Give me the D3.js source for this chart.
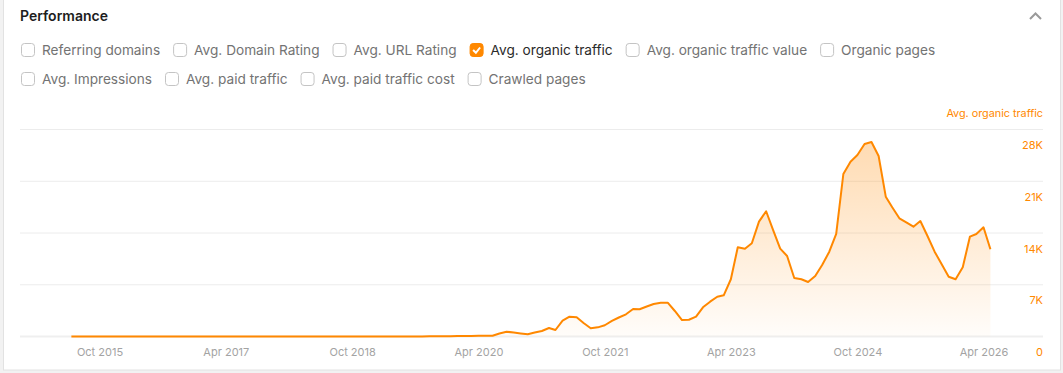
<!DOCTYPE html>
<html>
<head>
<meta charset="utf-8">
<script src="https://cdn.jsdelivr.net/npm/d3@7"></script>
<style>
  body { margin: 0; background: #f2f2f2; font-family: Inter, "Noto Sans", sans-serif; }
  svg { display: block; }
</style>
</head>
<body>
<svg id="chart" width="1063" height="373"></svg>
<script>
// metric toggles shown above the chart
const metricsRow1 = ["Referring domains", "Avg. Domain Rating", "Avg. URL Rating", "Avg. organic traffic", "Avg. organic traffic value", "Organic pages"];
const metricsRow2 = ["Avg. Impressions", "Avg. paid traffic", "Avg. paid traffic cost", "Crawled pages"];
const activeMetric = "Avg. organic traffic";

// monthly avg. organic traffic, first value = Jun 2015, last = May 2026
const firstMonth = "Jun 2015";
const traffic = [
  0, 0, 0, 0, 0, 0, 0, 0, 0, 0,
  0, 0, 0, 0, 0, 0, 0, 0, 0, 0,
  0, 0, 0, 0, 0, 0, 0, 0, 0, 0,
  0, 0, 0, 0, 0, 0, 0, 0, 0, 0,
  0, 0, 0, 0, 0, 0, 0, 0, 0, 0,
  0, 20, 30, 40, 50, 60, 70, 80, 90, 100,
  110, 400, 650, 530, 420, 300, 530, 745, 1150, 880,
  2140, 2680, 2600, 1830, 1110, 1240, 1520, 2100, 2570, 3000,
  3720, 3680, 4060, 4400, 4570, 4570, 3450, 2230, 2270, 2680,
  3950, 4710, 5380, 5570, 7740, 12070, 11880, 12610, 15530, 16940,
  14410, 11880, 10890, 7910, 7740, 7370, 8180, 9670, 11470, 13870,
  21980, 23650, 24550, 26040, 26310, 24420, 18910, 17480, 15990, 15450,
  14850, 15620, 13600, 11470, 9810, 8090, 7740, 9360, 13500, 13870,
  14770, 11800
];

const xTickLabels = ["Oct 2015", "Apr 2017", "Oct 2018", "Apr 2020", "Oct 2021", "Apr 2023", "Oct 2024", "Apr 2026"];
const yTicks = [0, 7000, 14000, 21000, 28000];

const orange = "#ff8800";
const parseMonth = d3.timeParse("%b %Y");
const start = parseMonth(firstMonth);
const data = traffic.map((v, i) => ({ date: d3.timeMonth.offset(start, i), value: v }));

const svg = d3.select("#chart");

// panel
svg.append("rect")
  .attr("x", 3.5).attr("y", -2)
  .attr("width", 1057).attr("height", 372)
  .attr("fill", "#fff")
  .attr("stroke", "#e2e2e2");

svg.append("text")
  .attr("x", 20).attr("y", 21)
  .style("font-size", "14px")
  .style("font-weight", 600)
  .attr("fill", "#1d1d1d")
  .text("Performance");

// collapse chevron
svg.append("path")
  .attr("d", "M1030,19 L1035.5,13.5 L1041,19")
  .attr("fill", "none")
  .attr("stroke", "#9a9a9a")
  .attr("stroke-width", 2);

// checkbox rows
function drawRow(items, cy) {
  let cx = 21;
  items.forEach(name => {
    const on = name === activeMetric;
    const g = svg.append("g");
    g.append("rect")
      .attr("x", cx + 0.5).attr("y", cy - 6.5)
      .attr("width", 13).attr("height", 13)
      .attr("rx", 3)
      .attr("fill", on ? orange : "#fff")
      .attr("stroke", on ? orange : "#c4c4c4");
    if (on) {
      g.append("path")
        .attr("d", `M${cx + 3.5},${cy} L${cx + 6.3},${cy + 2.8} L${cx + 10.5},${cy - 2.5}`)
        .attr("fill", "none")
        .attr("stroke", "#fff")
        .attr("stroke-width", 2);
    }
    const t = g.append("text")
      .attr("x", cx + 21).attr("y", cy + 5)
      .style("font-size", "13.65px")
      .attr("fill", on ? "#2a2a2a" : "#737373")
      .text(name);
    cx += 21 + t.node().getComputedTextLength() + 13;
  });
}
drawRow(metricsRow1, 50);
drawRow(metricsRow2, 79);

// scales
const x = d3.scaleTime()
  .domain([parseMonth("Oct 2015"), parseMonth("Apr 2026")])
  .range([99.5, 983.5]);
const y = d3.scaleLinear()
  .domain([0, 28000])
  .range([336.5, 129.5]);

// gridlines
svg.append("g")
  .selectAll("line")
  .data(yTicks)
  .enter().append("line")
  .attr("x1", 20).attr("x2", 1043)
  .attr("y1", d => y(d)).attr("y2", d => y(d))
  .attr("stroke", d => d === 0 ? "#efefef" : "#ececec")
  .attr("stroke-width", d => d === 0 ? 2 : 1);

// area gradient
const defs = svg.append("defs");
const grad = defs.append("linearGradient")
  .attr("id", "fillGrad")
  .attr("gradientUnits", "userSpaceOnUse")
  .attr("x1", 0).attr("x2", 0)
  .attr("y1", y(28000)).attr("y2", y(0));
grad.append("stop").attr("offset", "0%").attr("stop-color", orange).attr("stop-opacity", 0.32);
grad.append("stop").attr("offset", "100%").attr("stop-color", orange).attr("stop-opacity", 0.02);

const area = d3.area()
  .x(d => x(d.date))
  .y0(y(0))
  .y1(d => y(d.value));

const line = d3.line()
  .x(d => x(d.date))
  .y(d => y(d.value));

svg.append("path")
  .datum(data)
  .attr("d", area)
  .attr("fill", "url(#fillGrad)");

svg.append("path")
  .datum(data)
  .attr("d", line)
  .attr("fill", "none")
  .attr("stroke", orange)
  .attr("stroke-width", 2)
  .attr("stroke-linejoin", "round");

// right axis
const yAxis = svg.append("g")
  .attr("transform", "translate(1043,0)")
  .call(d3.axisRight(y)
    .tickValues(yTicks)
    .tickSize(0)
    .tickFormat(d => d === 0 ? "0" : (d / 1000) + "K"));
yAxis.select(".domain").remove();
yAxis.selectAll("text")
  .attr("x", 0)
  .attr("y", 15.5)
  .attr("text-anchor", "end")
  .attr("fill", orange)
  .style("font-family", "Inter, 'Noto Sans', sans-serif")
  .style("font-size", "11px");

svg.append("text")
  .attr("x", 1043).attr("y", 117)
  .attr("text-anchor", "end")
  .attr("fill", orange)
  .style("font-size", "10.8px")
  .text("Avg. organic traffic");

// bottom axis
const xAxis = svg.append("g")
  .attr("transform", "translate(0,348)")
  .call(d3.axisBottom(x)
    .tickValues(xTickLabels.map(parseMonth))
    .tickSize(0)
    .tickPadding(0)
    .tickFormat(d3.timeFormat("%b %Y")));
xAxis.select(".domain").remove();
xAxis.selectAll("text")
  .attr("fill", "#a3a3a3")
  .style("font-family", "Inter, 'Noto Sans', sans-serif")
  .style("font-size", "11px");
</script>
</body>
</html>
